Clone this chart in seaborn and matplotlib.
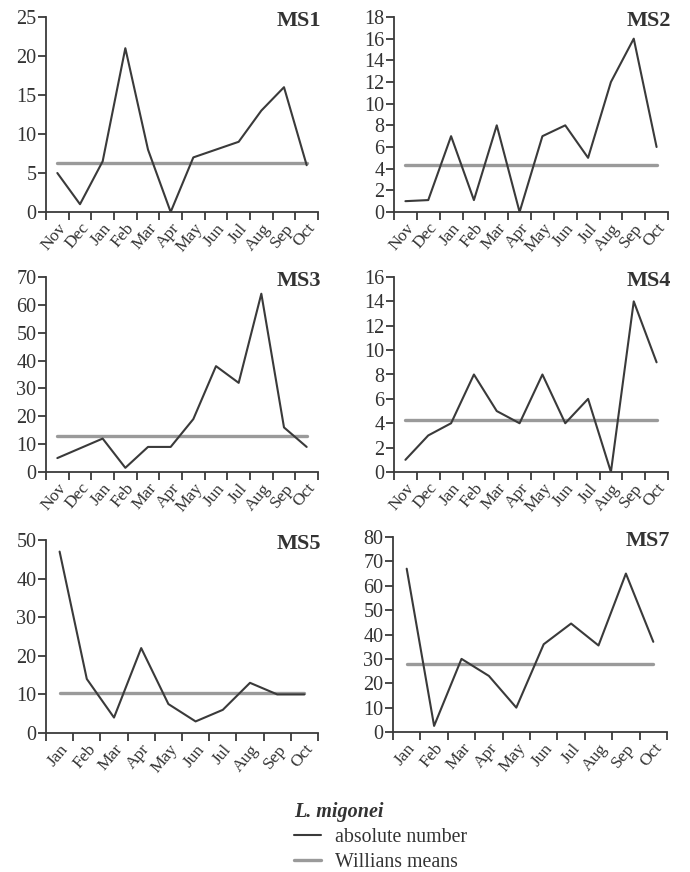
import matplotlib
matplotlib.use("Agg")
import matplotlib.pyplot as plt
import seaborn as sns
import pandas as pd
from matplotlib.lines import Line2D
from matplotlib.ticker import FixedLocator, NullFormatter

sns.set_theme(style="ticks")
plt.rcParams['font.family'] = ['Liberation Serif', 'DejaVu Serif']

months_a = ["Nov", "Dec", "Jan", "Feb", "Mar", "Apr", "May", "Jun", "Jul", "Aug", "Sep", "Oct"]
months_b = ["Jan", "Feb", "Mar", "Apr", "May", "Jun", "Jul", "Aug", "Sep", "Oct"]

ms1 = [5, 1, 6.5, 21, 8, 0, 7, 8, 9, 13, 16, 6]
ms2 = [1, 1.1, 7, 1.1, 8, 0, 7, 8, 5, 12, 16, 6]
ms3 = [5, 8.5, 12, 1.5, 9, 9, 19, 38, 32, 64, 16, 9]
ms4 = [1, 3, 4, 8, 5, 4, 8, 4, 6, 0, 14, 9]
ms5 = [47, 14, 4, 22, 7.5, 3, 6, 13, 10, 10]
ms7 = [67, 2.5, 30, 23, 10, 36, 44.5, 35.5, 65, 37]

williams = {"MS1": 6.3, "MS2": 4.3, "MS3": 13, "MS4": 4.3, "MS5": 10.3, "MS7": 27.7}
ymax = {"MS1": 25, "MS2": 18, "MS3": 70, "MS4": 16, "MS5": 50, "MS7": 80}
ystep = {"MS1": 5, "MS2": 2, "MS3": 10, "MS4": 2, "MS5": 10, "MS7": 10}

panels = [
    ("MS1", months_a, ms1, [46, 17, 318, 212]),
    ("MS2", months_a, ms2, [394, 17, 668, 212]),
    ("MS3", months_a, ms3, [46, 277, 318, 472]),
    ("MS4", months_a, ms4, [394, 277, 668, 472]),
    ("MS5", months_b, ms5, [46, 540, 318, 733]),
    ("MS7", months_b, ms7, [393, 537, 667, 732]),
]

W, H = 690, 872
fig = plt.figure(figsize=(W / 100, H / 100), dpi=100)

dark = "#3a3a3a"
grey = "#9a9a9a"
txt = "#333333"

for name, months, vals, (x0, y0, x1, y1) in panels:
    ax = fig.add_axes([x0 / W, 1 - y1 / H, (x1 - x0) / W, (y1 - y0) / H])
    n = len(months)
    df = pd.DataFrame({"month": months, "value": vals, "mean": [williams[name]] * n})
    sns.lineplot(data=df, x="month", y="mean", ax=ax, color=grey, lw=2.4, sort=False)
    sns.lineplot(data=df, x="month", y="value", ax=ax, color=dark, lw=1.5, sort=False)
    ax.set_xlim(-0.5, n - 0.5)
    ax.set_ylim(0, ymax[name])
    ax.set_yticks(range(0, ymax[name] + 1, ystep[name]))
    ax.set_xticks(range(n))
    ax.set_xticklabels(months, rotation=50, ha="right", va="top", rotation_mode="anchor",
                       fontsize=12.5, color=txt)
    ax.xaxis.set_minor_locator(FixedLocator([i - 0.5 for i in range(n + 1)]))
    ax.xaxis.set_minor_formatter(NullFormatter())
    ax.tick_params(axis="x", which="major", length=0, pad=6)
    ax.tick_params(axis="x", which="minor", length=6, width=1.3, color=dark, direction="out")
    ax.tick_params(axis="y", length=6, width=1.3, color=dark, labelsize=14.5, labelcolor=txt, pad=1)
    ax.set_xlabel("")
    ax.set_ylabel("")
    for s in ["top", "right"]:
        ax.spines[s].set_visible(False)
    for s in ["left", "bottom"]:
        ax.spines[s].set_color(dark)
        ax.spines[s].set_linewidth(1.3)
    ax.text(1.01, 1.03, name, transform=ax.transAxes, ha="right", va="top",
            fontsize=16, fontweight="bold", color=txt)
    if ax.get_legend():
        ax.get_legend().remove()

handles = [Line2D([], [], color=dark, lw=1.5), Line2D([], [], color=grey, lw=2.4)]
leg = fig.legend(handles, ["absolute number", "Willians means"],
                 title="L. migonei", loc="upper left",
                 bbox_to_anchor=(294 / W, 1 - 802 / H), frameon=False,
                 borderpad=0, borderaxespad=0,
                 fontsize=14.3, handlelength=1.35, handletextpad=0.7, labelspacing=0.3,
                 alignment="left")
leg.get_title().set_fontweight("bold")
leg.get_title().set_fontstyle("italic")
leg.get_title().set_fontsize(14.5)
leg.get_title().set_color(txt)
for t in leg.get_texts():
    t.set_color(txt)

fig.savefig("out.png", dpi=100)
